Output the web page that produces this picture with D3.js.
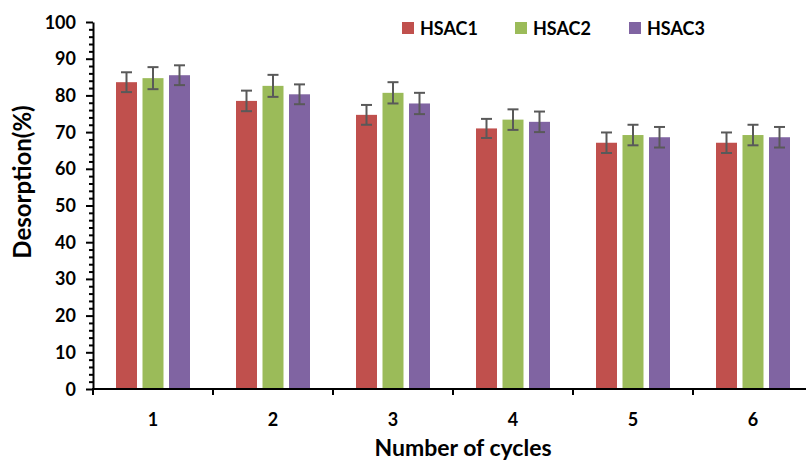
<!DOCTYPE html>
<html>
<head>
<meta charset="utf-8">
<title>desorption</title>
<script src="https://cdn.jsdelivr.net/npm/d3@7"></script>
<style>
  body { margin: 0; background: #fff; }
  svg text { font-family: Lato, "Open Sans", sans-serif; font-weight: bold; fill: #000; }
</style>
</head>
<body>
<svg id="chart" width="806" height="463"></svg>
<script>
// values
var cycles = ["1", "2", "3", "4", "5", "6"];
var series = ["HSAC1", "HSAC2", "HSAC3"];
var colors = ["#C0504D", "#9BBB59", "#8064A2"];
var hsac1 = [83.6, 78.5, 74.7, 71.0, 67.1, 67.1];
var hsac2 = [84.7, 82.6, 80.7, 73.4, 69.2, 69.2];
var hsac3 = [85.5, 80.3, 77.8, 72.8, 68.6, 68.6];
var err1 = [2.7, 2.8, 2.7, 2.6, 2.8, 2.8];
var err2 = [3.0, 3.0, 2.9, 2.8, 2.8, 2.8];
var err3 = [2.7, 2.7, 2.9, 2.8, 2.8, 2.8];
var yTicks = [0, 10, 20, 30, 40, 50, 60, 70, 80, 90, 100];

var vals = [hsac1, hsac2, hsac3];
var errs = [err1, err2, err3];

var svg = d3.select("#chart");

var x = d3.scaleBand().domain(cycles).range([93, 813]);
var y = d3.scaleLinear().domain([0, 100]).range([389, 22]);
var barStep = 26.5, barW = 21;

var data = [];
cycles.forEach(function(c, i) {
    series.forEach(function(s, j) {
        data.push({cycle: c, s: j, v: vals[j][i], e: errs[j][i]});
    });
});

function bx(d) { return x(d.cycle) + x.bandwidth() / 2 + (d.s - 1) * barStep; }

// bars
svg.append("g").selectAll("rect")
    .data(data)
    .enter().append("rect")
    .attr("x", function(d) { return bx(d) - barW / 2; })
    .attr("y", function(d) { return y(d.v); })
    .attr("width", barW)
    .attr("height", function(d) { return y(0) - y(d.v); })
    .attr("fill", function(d) { return colors[d.s]; });

// error bars
var eb = svg.append("g").attr("stroke", "#595959").attr("stroke-width", 2);
eb.selectAll("line.v").data(data).enter().append("line")
    .attr("x1", bx).attr("x2", bx)
    .attr("y1", function(d) { return y(d.v + d.e); })
    .attr("y2", function(d) { return y(d.v - d.e); });
eb.selectAll("line.t").data(data).enter().append("line")
    .attr("x1", function(d) { return bx(d) - 5.5; })
    .attr("x2", function(d) { return bx(d) + 5.5; })
    .attr("y1", function(d) { return y(d.v + d.e); })
    .attr("y2", function(d) { return y(d.v + d.e); });
eb.selectAll("line.b").data(data).enter().append("line")
    .attr("x1", function(d) { return bx(d) - 5.5; })
    .attr("x2", function(d) { return bx(d) + 5.5; })
    .attr("y1", function(d) { return y(d.v - d.e); })
    .attr("y2", function(d) { return y(d.v - d.e); });

// y axis
var yAxis = svg.append("g").attr("transform", "translate(93,0)");
yAxis.call(d3.axisLeft(y).tickValues(d3.range(0, 101, 2)).tickFormat("").tickSize(4).tickSizeOuter(0));
yAxis.selectAll(".tick").filter(function(d) { return d % 10 == 0; }).select("line").attr("x2", -7);
yAxis.selectAll("line, path").attr("stroke", "#000").attr("stroke-width", 2);
svg.append("g").selectAll("text")
    .data(yTicks)
    .enter().append("text")
    .attr("x", 76)
    .attr("y", function(d) { return y(d) + 6.5; })
    .attr("text-anchor", "end")
    .attr("font-size", "18px")
    .text(function(d) { return d; });

// x axis
var xAxis = svg.append("g").attr("transform", "translate(0,389)");
xAxis.append("line").attr("x1", 92).attr("x2", 806).attr("y1", 0).attr("y2", 0)
    .attr("stroke", "#000").attr("stroke-width", 2);
xAxis.selectAll("line.tk")
    .data(cycles)
    .enter().append("line")
    .attr("x1", function(d) { return x(d); })
    .attr("x2", function(d) { return x(d); })
    .attr("y1", 0).attr("y2", 6)
    .attr("stroke", "#000").attr("stroke-width", 2);
xAxis.selectAll("text")
    .data(cycles)
    .enter().append("text")
    .attr("x", function(d) { return x(d) + x.bandwidth() / 2; })
    .attr("y", 37)
    .attr("text-anchor", "middle")
    .attr("font-size", "18px")
    .text(function(d) { return d; });

// titles
svg.append("text")
    .attr("transform", "translate(31,182) rotate(-90)")
    .attr("text-anchor", "middle")
    .attr("font-size", "24px")
    .text("Desorption(%)");
svg.append("text")
    .attr("x", 463).attr("y", 456)
    .attr("text-anchor", "middle")
    .attr("font-size", "23px")
    .text("Number of cycles");

// legend
var legX = [402, 515, 629];
var leg = svg.append("g").selectAll("g")
    .data(series)
    .enter().append("g")
    .attr("transform", function(d, i) { return "translate(" + legX[i] + ",22)"; });
leg.append("rect").attr("width", 12).attr("height", 12)
    .attr("fill", function(d, i) { return colors[i]; });
leg.append("text").attr("x", 18).attr("y", 12.5)
    .attr("font-size", "18px")
    .text(function(d) { return d; });
</script>
</body>
</html>
